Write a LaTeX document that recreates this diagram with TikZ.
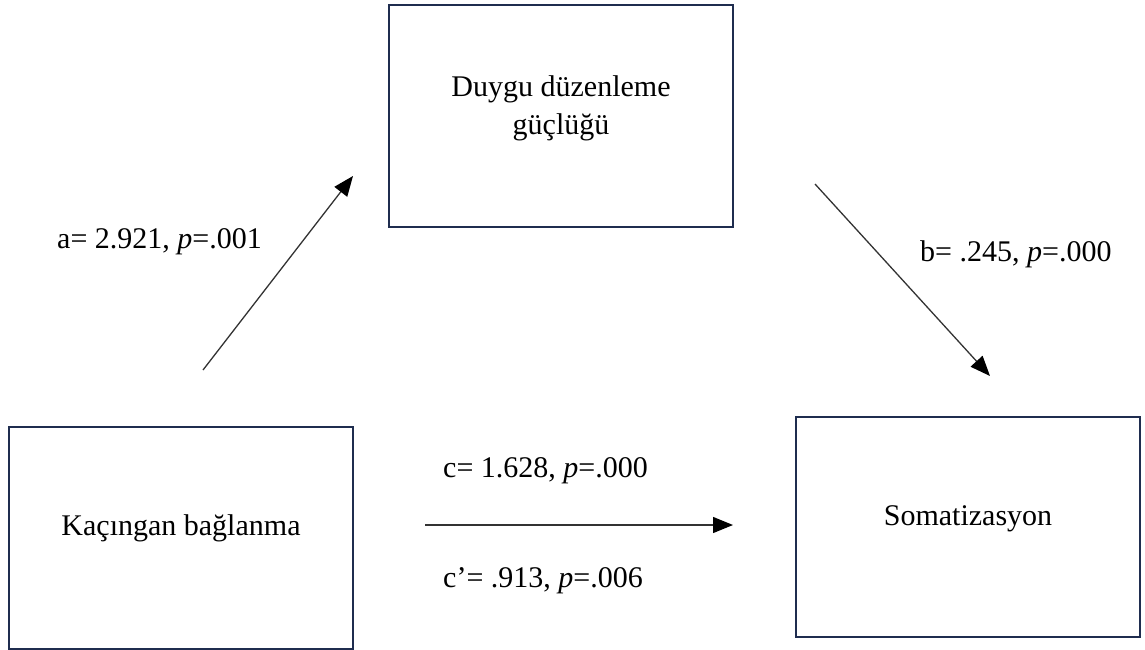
\documentclass[tikz,border=0pt]{standalone}
\usepackage{fontspec}
\setmainfont{Liberation Serif}
\usetikzlibrary{arrows.meta}
\definecolor{boxline}{HTML}{1F2D4F}
\tikzset{
  varbox/.style={draw=boxline, line width=2.4pt, fill=none, inner sep=0pt},
  vartext/.style={font=\fontsize{30}{38}\selectfont, align=center, inner sep=0pt},
  lbl/.style={font=\fontsize{30}{36}\selectfont, anchor=west, inner sep=0pt},
  path arrow/.style={line width=1.3pt, draw=black!80, -{Triangle[length=20pt,width=16pt,color=black]}}
}
\begin{document}
\begin{tikzpicture}[x=1pt,y=-1pt]
\useasboundingbox (0,0) rectangle (1145,650);
% boxes
\draw[varbox] (389,5) rectangle (733,227);
\draw[varbox] (9,427) rectangle (353,649);
\draw[varbox] (796,417) rectangle (1140,637);
\node[vartext] (med) at (561,108) {Duygu düzenleme\\güçlüğü};
\node[vartext] (iv) at (181,528) {Kaçıngan bağlanma};
\node[vartext] (dv) at (968,519) {Somatizasyon};
% arrow end points
\coordinate (a1) at (203,370);
\coordinate (a2) at (353,176);
\coordinate (b1) at (815,184);
\coordinate (b2) at (990,376);
\coordinate (c1) at (425,525);
\coordinate (c2) at (733,525);
\draw[path arrow] (a1) -- (a2);
\draw[path arrow] (b1) -- (b2);
\draw[path arrow] (c1) -- (c2);
% labels
\node[lbl] (la) at (57,242) {a= 2.921, \textit{p}=.001};
\node[lbl] (lb) at (920,254) {b= .245, \textit{p}=.000};
\node[lbl] (lc) at (443,471) {c= 1.628, \textit{p}=.000};
\node[lbl] (lcp) at (443,581) {c’= .913, \textit{p}=.006};
\end{tikzpicture}
\end{document}
